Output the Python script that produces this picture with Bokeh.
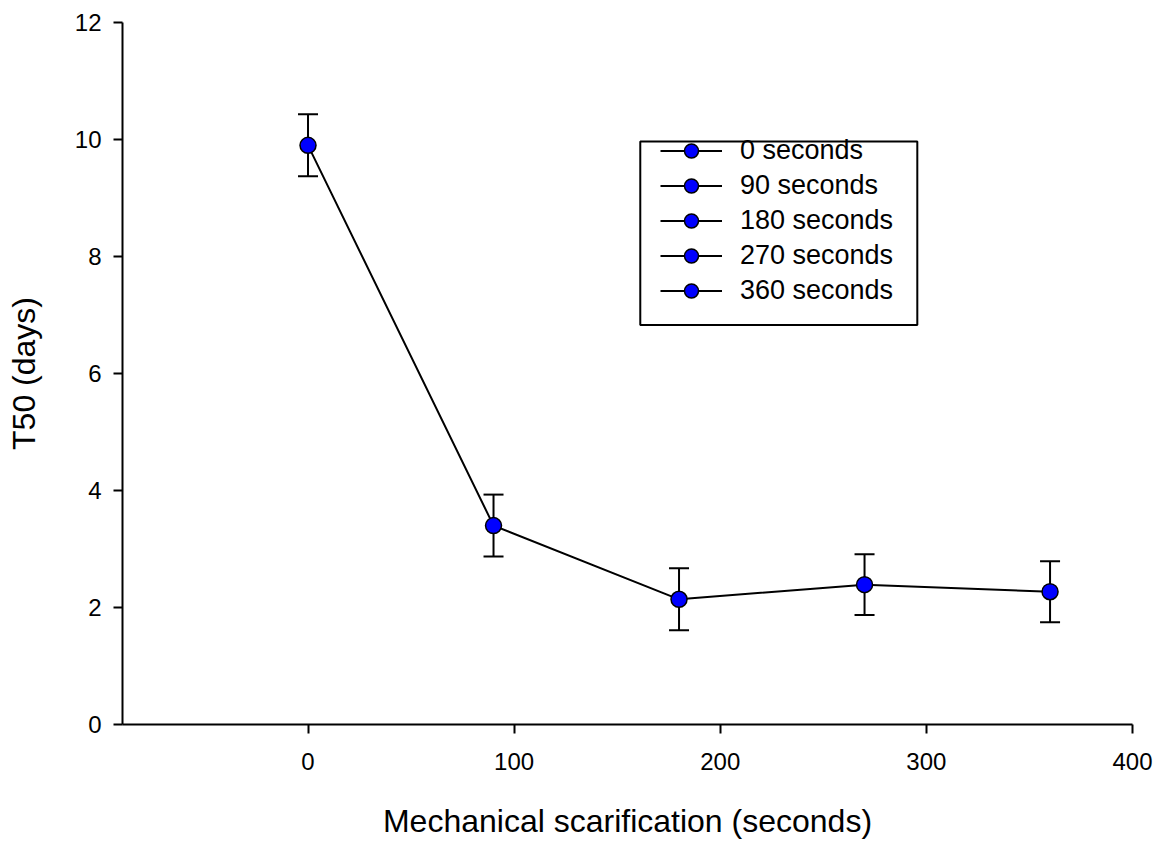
from bokeh.plotting import figure
from bokeh.models import (ColumnDataSource, Range1d, FixedTicker, Whisker, TeeHead,
                          Legend, LegendItem, BoxAnnotation)
from bokeh.embed import file_html
from bokeh.resources import INLINE

# Data
scarification = [0, 90, 180, 270, 360]
t50 = [9.90, 3.40, 2.14, 2.39, 2.27]
t50_err = [0.53, 0.53, 0.53, 0.52, 0.52]
legend_labels = ["0 seconds", "90 seconds", "180 seconds", "270 seconds", "360 seconds"]
x_ticks = [0, 100, 200, 300, 400]
y_ticks = [0, 2, 4, 6, 8, 10, 12]

FONT = "Liberation Sans"

src = ColumnDataSource(dict(
    x=scarification, y=t50,
    upper=[v + e for v, e in zip(t50, t50_err)],
    lower=[v - e for v, e in zip(t50, t50_err)],
))

p = figure(width=1166, height=842, output_backend="svg", toolbar_location=None,
           x_range=Range1d(-90, 400), y_range=Range1d(0, 12),
           min_border_left=122, min_border_right=34, min_border_top=22, min_border_bottom=118)
p.outline_line_color = None
p.grid.visible = False
p.background_fill_color = "white"
p.border_fill_color = "white"

for ax in (p.xaxis[0], p.yaxis[0]):
    ax.axis_line_color = "black"
    ax.axis_line_width = 2
    ax.major_tick_line_color = "black"
    ax.major_tick_line_width = 2
    ax.major_tick_out = 9
    ax.major_tick_in = 0
    ax.minor_tick_line_color = None
    ax.major_label_text_font = FONT
    ax.major_label_text_font_size = "24px"
    ax.major_label_text_color = "black"
    ax.axis_label_text_font = FONT
    ax.axis_label_text_font_size = "32px"
    ax.axis_label_text_font_style = "normal"
    ax.axis_label_text_color = "black"

p.xaxis.ticker = FixedTicker(ticks=x_ticks)
p.yaxis.ticker = FixedTicker(ticks=y_ticks)
p.xaxis.axis_label = "Mechanical scarification (seconds)"
p.yaxis.axis_label = "T50 (days)"
p.xaxis.major_label_standoff = 19
p.yaxis.major_label_standoff = 12
p.xaxis.axis_label_standoff = 30
p.yaxis.axis_label_standoff = 30

whisk = Whisker(base="x", upper="upper", lower="lower", source=src,
                line_color="black", line_width=2,
                upper_head=TeeHead(size=20, line_color="black", line_width=2),
                lower_head=TeeHead(size=20, line_color="black", line_width=2))
p.add_layout(whisk)

line_r = p.line("x", "y", source=src, line_color="black", line_width=2)
pts_r = p.scatter("x", "y", source=src, size=16, fill_color="#0000FF",
                  line_color="black", line_width=1.5)

items = [LegendItem(label=lab, renderers=[line_r, pts_r]) for lab in legend_labels]
legend = Legend(items=items, location=(538, 416), orientation="vertical",
                glyph_width=62, glyph_height=35, label_height=35, spacing=0,
                label_standoff=18, padding=0, margin=0,
                label_text_font=FONT, label_text_font_size="27px",
                label_text_color="black",
                border_line_alpha=0, background_fill_alpha=0)
p.add_layout(legend, "center")

box = BoxAnnotation(left=161.2, right=295.6, top=9.966, bottom=6.829,
                    fill_alpha=0, line_color="black", line_alpha=1, line_width=2)
p.add_layout(box)

open("out.html", "w").write(file_html(p, INLINE))
